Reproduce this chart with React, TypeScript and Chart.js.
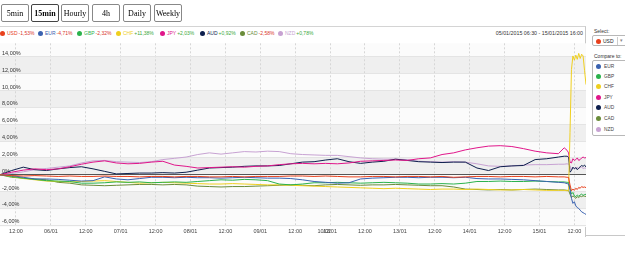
import React, { useEffect, useRef } from 'react';
import { Chart, registerables } from 'chart.js';

Chart.register(...registerables);

// ---- data ----
const periodButtons = ['5min', '15min', 'Hourly', '4h', 'Daily', 'Weekly'];
const activePeriod = '15min';

// trading hours since 05/01/2015 06:30 (weekend skipped)
const hours = [
  0, 4, 8, 12, 16, 20, 24, 28, 32, 36, 40, 44, 48, 52, 56, 60, 64, 68, 72, 76, 80, 84, 88, 92, 96,
  100, 104, 108, 112, 116, 120, 124, 128, 132, 136, 140, 144, 148, 152, 156, 160, 164, 168, 172,
  176, 180, 184, 188, 192, 194, 195, 195.5, 196, 196.5, 197, 197.5, 198, 198.5, 199, 199.5, 200,
  200.5, 201, 201.5,
];

const currencies = ['USD', 'EUR', 'GBP', 'CHF', 'JPY', 'AUD', 'CAD', 'NZD'];
const currencyColors = ['#e8401c', '#3a62b0', '#2bb24c', '#efcf1f', '#e0168a', '#0d1f4d', '#6a8c3a', '#c7a2d2'];
const changeLabels = ['-1,53%', '-4,71%', '-2,32%', '+11,38%', '+2,03%', '+0,92%', '-2,58%', '+0,78%'];
const compareList = ['EUR', 'GBP', 'CHF', 'JPY', 'AUD', 'CAD', 'NZD'];
const dateRange = '05/01/2015 06:30 - 15/01/2015 16:00';

const usd = [0, -0.1, -0.15, -0.1, -0.15, -0.2, -0.15, -0.2, -0.2, -0.15, -0.2, -0.2, -0.25, -0.2, -0.2, -0.25, -0.2, -0.2, -0.25, -0.25, -0.2, -0.25, -0.2, -0.2, -0.2, -0.15, -0.15, -0.2, -0.15, -0.2, -0.25, -0.25, -0.2, -0.2, -0.25, -0.2, -0.2, -0.25, -0.2, -0.3, -0.25, -0.2, -0.2, -0.25, -0.2, -0.2, -0.25, -0.2, -0.25,
  -0.25, -0.3, -0.3, -1.2, -1.9, -1.7, -1.85, -1.6, -1.75, -1.5, -1.6, -1.4, -1.5, -1.45, -1.53];
const eur = [0, -0.1, -0.3, -0.5, -0.5, -0.55, -0.65, -0.75, -0.7, -0.25, -0.5, -0.6, -0.45, -0.3, -0.3, -0.35, -0.3, -0.35, -0.35, -0.4, -0.35, -0.3, -0.35, -0.4, -0.4, -0.45, -0.6, -0.8, -0.9, -1.0, -0.95, -0.5, -0.4, -0.35, -0.3, -0.3, -0.35, -0.3, -0.3, -0.35, -0.3, -0.45, -0.5, -0.5, -0.55, -0.6, -0.7, -0.8, -0.9,
  -0.95, -1.05, -1.1, -1.8, -2.8, -3.4, -3.2, -3.7, -3.9, -4.0, -4.2, -4.4, -4.5, -4.6, -4.71];
const gbp = [0, -0.2, -0.4, -0.55, -0.7, -0.75, -0.8, -1.0, -1.0, -0.95, -0.85, -0.9, -0.85, -0.95, -0.9, -0.85, -0.9, -0.8, -0.7, -0.6, -0.65, -0.55, -0.6, -0.7, -1.1, -1.2, -1.1, -0.95, -0.95, -0.9, -0.95, -1.0, -0.95, -0.9, -0.95, -1.0, -1.1, -1.1, -1.05, -1.1, -1.0, -0.8, -0.8, -0.75, -0.8, -0.8, -0.75, -0.8, -0.85,
  -0.85, -0.9, -0.9, -1.6, -2.3, -2.1, -2.5, -2.6, -2.4, -2.55, -2.4, -2.3, -2.45, -2.35, -2.32];
const chf = [0, -0.2, -0.45, -0.6, -0.75, -0.8, -0.85, -0.8, -0.75, -0.7, -0.8, -0.9, -1.0, -0.95, -0.9, -0.95, -1.0, -1.05, -1.1, -1.1, -1.05, -1.1, -1.15, -1.2, -1.2, -1.25, -1.3, -1.35, -1.4, -1.45, -1.5, -1.55, -1.6, -1.65, -1.6, -1.65, -1.7, -1.75, -1.7, -1.7, -1.75, -1.7, -1.75, -1.8, -1.8, -1.75, -1.8, -1.85, -1.85,
  -1.85, -1.9, -1.9, 5.0, 12.5, 14.1, 13.6, 14.2, 13.7, 14.4, 13.8, 14.3, 14.1, 12.4, 10.7];
const jpy = [0, 0.3, 0.55, 0.7, 0.6, 0.7, 0.95, 1.25, 1.5, 1.65, 1.4, 1.3, 1.35, 1.5, 1.6, 1.15, 1.0, 0.8, 0.85, 0.9, 0.95, 0.9, 1.0, 1.05, 1.2, 1.3, 1.35, 1.3, 1.35, 1.3, 1.4, 1.6, 1.65, 1.7, 1.75, 1.7, 1.9, 2.0, 2.4, 2.6, 2.95, 3.2, 3.4, 3.45, 3.35, 3.1, 2.8, 2.6, 2.5,
  3.2, 2.9, 2.6, 1.5, 1.4, 1.9, 1.7, 1.8, 2.0, 1.7, 1.8, 2.0, 2.1, 2.0, 2.03];
const aud = [0, 0.5, 0.9, 0.6, 0.5, 0.7, 0.85, 0.95, 0.7, 0.4, 0.1, 0.15, 0.2, 0.2, 0.25, 0.2, 0.3, 0.55, 0.8, 0.85, 0.9, 1.0, 1.05, 1.05, 1.1, 1.3, 1.5, 1.55, 1.75, 1.9, 1.55, 1.35, 1.5, 1.6, 1.85, 1.7, 1.55, 1.5, 1.45, 1.5, 1.5, 0.8, 0.5, 0.95, 1.05, 1.1, 1.8, 1.9, 2.1,
  2.2, 2.2, 2.1, 0.3, 0.5, 0.9, 0.7, 0.85, 0.6, 0.8, 0.95, 1.1, 1.0, 1.15, 0.92];
const cad = [0, -0.3, -0.4, -0.5, -0.6, -0.9, -1.0, -1.2, -1.25, -1.3, -1.25, -1.2, -1.15, -1.15, -1.2, -1.15, -1.2, -1.35, -1.4, -1.45, -1.4, -1.4, -1.35, -1.3, -1.25, -1.2, -1.25, -1.3, -1.2, -1.15, -1.2, -1.25, -1.2, -1.2, -1.15, -1.2, -1.25, -1.3, -1.3, -1.45, -1.7, -1.75, -1.8, -1.75, -1.8, -1.75, -1.7, -1.75, -1.8,
  -1.8, -1.85, -1.85, -2.3, -2.7, -2.5, -2.65, -2.8, -2.6, -2.7, -2.55, -2.6, -2.5, -2.55, -2.58];
const nzd = [0, 0.15, 0.35, 0.6, 0.75, 0.9, 1.05, 1.4, 1.65, 1.7, 1.55, 1.5, 1.45, 1.55, 1.8, 1.95, 2.1, 2.4, 2.6, 2.45, 2.6, 2.75, 2.7, 2.8, 2.75, 2.5, 2.4, 2.35, 2.3, 2.3, 2.15, 2.0, 1.9, 1.85, 1.85, 1.8, 1.6, 1.55, 1.5, 1.55, 1.5, 1.3, 1.05, 1.0, 1.05, 1.15, 1.2, 1.2, 1.25,
  1.25, 1.3, 1.25, 1.1, 0.6, 0.9, 0.7, 0.8, 0.9, 0.7, 0.85, 0.9, 0.75, 0.8, 0.78];

const seriesValues = [usd, eur, gbp, chf, jpy, aud, cad, nzd];

const xTickHours = [5.5, 17.5, 29.5, 41.5, 53.5, 65.5, 77.5, 89.5, 101.5, 111.5, 113.5, 125.5, 137.5, 149.5, 161.5, 173.5, 185.5, 197.5];
const xTickLabels = ['12:00', '06/01', '12:00', '07/01', '12:00', '08/01', '12:00', '09/01', '12:00', '10/01', '12/01', '12:00', '13/01', '12:00', '14/01', '12:00', '15/01', '12:00'];
const hiddenGridTick = 111.5;
const yTickValues = [-6, -4, -2, 0, 2, 4, 6, 8, 10, 12, 14];
const grayBands = [[12, 14], [8, 10], [4, 6], [0, 2], [-4, -2]];

const FONT = '"Liberation Sans", Arial, sans-serif';

const bandPlugin = {
  id: 'bands',
  beforeDraw(chart: any) {
    const { ctx, chartArea, scales } = chart;
    const y = scales.y;
    ctx.save();
    ctx.fillStyle = '#fbfbfb';
    ctx.fillRect(chartArea.left, chartArea.top, chartArea.right - chartArea.left, chartArea.bottom - chartArea.top);
    ctx.fillStyle = '#efefef';
    for (const [lo, hi] of grayBands) {
      const top = y.getPixelForValue(hi);
      const bot = y.getPixelForValue(lo);
      ctx.fillRect(chartArea.left, top, chartArea.right - chartArea.left, bot - top);
    }
    ctx.restore();
  },
};

function formatPct(v: number) {
  return v === 0 ? '0%' : v.toFixed(2).replace('.', ',') + '%';
}

export default function App() {
  const canvasRef = useRef<HTMLCanvasElement>(null);

  useEffect(() => {
    const chart = new Chart(canvasRef.current as HTMLCanvasElement, {
      type: 'line',
      data: {
        datasets: currencies.map((name, si) => ({
          label: name,
          data: hours.map((h, i) => ({ x: h, y: seriesValues[si][i] })),
          borderColor: currencyColors[si],
          backgroundColor: currencyColors[si],
          borderWidth: 1,
          pointRadius: 0,
          tension: 0,
          fill: false,
        })),
      },
      options: {
        animation: false,
        responsive: true,
        maintainAspectRatio: false,
        layout: { padding: { top: 2, left: 0, right: 0, bottom: 0 } },
        plugins: { legend: { display: false }, tooltip: { enabled: false } },
        scales: {
          x: {
            type: 'linear',
            min: 0,
            max: 201.5,
            afterBuildTicks: (s: any) => {
              s.ticks = xTickHours.map((v) => ({ value: v }));
            },
            afterFit: (s: any) => {
              s.height = 11;
            },
            ticks: {
              autoSkip: false,
              maxRotation: 0,
              minRotation: 0,
              padding: 1,
              color: '#444',
              font: { size: 5.5, family: FONT },
              callback: (_v: any, i: number) => xTickLabels[i],
            },
            grid: {
              drawTicks: false,
              color: (ctx: any) => (ctx.tick && ctx.tick.value === hiddenGridTick ? 'rgba(0,0,0,0)' : '#d6d6d6'),
              lineWidth: 1,
            },
            border: { display: false, dash: [2, 2] },
          },
          y: {
            type: 'linear',
            min: -6.2,
            max: 15.6,
            afterBuildTicks: (s: any) => {
              s.ticks = yTickValues.map((v) => ({ value: v }));
            },
            afterFit: (s: any) => {
              s.width = 0;
            },
            ticks: {
              mirror: true,
              padding: 2,
              labelOffset: -3.5,
              color: '#333',
              font: { size: 5.5, family: FONT },
              callback: (v: any) => formatPct(Number(v)),
            },
            grid: {
              drawTicks: false,
              color: (ctx: any) => (ctx.tick && ctx.tick.value === 0 ? '#555' : '#e4e4e4'),
              lineWidth: 1,
            },
            border: { display: false },
          },
        },
      },
      plugins: [bandPlugin],
    } as any);
    return () => chart.destroy();
  }, []);

  const buttonLefts = [1, 31, 61, 92, 123, 154];
  const legendLefts = [0, 38, 77, 116, 160, 200, 240, 278];
  const listTops = [66, 76, 86.5, 97, 107.5, 118.5, 129.5];

  return (
    <div
      style={{
        position: 'fixed',
        left: 0,
        top: 0,
        width: 625,
        height: 255,
        background: '#fff',
        overflow: 'hidden',
        fontFamily: FONT,
      }}
    >
      {periodButtons.map((b, i) => (
        <div
          key={b}
          style={{
            position: 'absolute',
            left: buttonLefts[i],
            top: 4,
            width: 28,
            height: 18,
            boxSizing: 'border-box',
            border: b === activePeriod ? '1px solid #444' : '1px solid #888',
            borderRadius: 2,
            background: '#fff',
            display: 'flex',
            alignItems: 'center',
            justifyContent: 'center',
            fontFamily: '"Liberation Serif", "Times New Roman", serif',
            fontSize: 8,
            fontWeight: b === activePeriod ? 'bold' : 'normal',
            color: '#000',
            willChange: 'transform',
          }}
        >
          {b}
        </div>
      ))}

      <div
        style={{
          position: 'absolute',
          left: 0,
          top: 26,
          width: 586,
          height: 211,
          boxSizing: 'border-box',
          borderTop: '1px solid #d4d4d4',
          borderRight: '1px solid #c8c8c8',
        }}
      />

      {currencies.map((c, i) => (
        <div
          key={c}
          style={{
            position: 'absolute',
            left: legendLefts[i],
            top: 30,
            height: 6,
            display: 'flex',
            alignItems: 'center',
            fontSize: 5,
            lineHeight: '6px',
            whiteSpace: 'nowrap',
          }}
        >
          <span
            style={{
              display: 'inline-block',
              width: 5,
              height: 5,
              borderRadius: '50%',
              background: currencyColors[i],
              marginRight: 2,
            }}
          />
          <span style={{ color: currencyColors[i] }}>{c}</span>
          <span style={{ color: changeLabels[i].startsWith('-') ? '#d8352a' : '#3aa83a', marginLeft: 1 }}>
            {changeLabels[i]}
          </span>
        </div>
      ))}

      <div
        style={{
          position: 'absolute',
          right: 625 - 583,
          top: 30,
          fontSize: 5.3,
          lineHeight: '6px',
          color: '#333',
          whiteSpace: 'nowrap',
        }}
      >
        {dateRange}
      </div>

      <div style={{ position: 'absolute', left: 0, top: 38, width: 586, height: 200 }}>
        <canvas ref={canvasRef} />
      </div>

      {/* right panel */}
      <div style={{ position: 'absolute', left: 594, top: 28, fontSize: 5, color: '#333' }}>Select:</div>
      <div
        style={{
          position: 'absolute',
          left: 592,
          top: 35,
          width: 36,
          height: 11,
          boxSizing: 'border-box',
          border: '1px solid #b8b8b8',
          borderRadius: 2,
          background: '#fff',
        }}
      >
        <span
          style={{
            position: 'absolute',
            left: 3,
            top: 2.5,
            width: 5,
            height: 5,
            borderRadius: '50%',
            background: currencyColors[0],
          }}
        />
        <span style={{ position: 'absolute', left: 10, top: 1.5, fontSize: 5, color: '#222' }}>USD</span>
        <span style={{ position: 'absolute', left: 24, top: 1, width: 1, height: 8, background: '#ccc' }} />
        <span style={{ position: 'absolute', left: 27, top: 1, fontSize: 5, color: '#888' }}>▾</span>
      </div>
      <div style={{ position: 'absolute', left: 594, top: 53, fontSize: 5, color: '#333', whiteSpace: 'nowrap' }}>
        Compare to:
      </div>
      <div
        style={{
          position: 'absolute',
          left: 592,
          top: 60,
          width: 40,
          height: 76,
          boxSizing: 'border-box',
          border: '1px solid #b8b8b8',
          borderRadius: 2,
          background: '#fff',
        }}
      />
      {compareList.map((c, i) => (
        <div
          key={c}
          style={{
            position: 'absolute',
            left: 596,
            top: listTops[i] - 3,
            height: 6,
            display: 'flex',
            alignItems: 'center',
            fontSize: 4.8,
            color: '#444',
          }}
        >
          <span
            style={{
              display: 'inline-block',
              width: 5,
              height: 5,
              borderRadius: '50%',
              background: currencyColors[currencies.indexOf(c)],
              marginRight: 3,
            }}
          />
          {c}
        </div>
      ))}
      <div style={{ position: 'absolute', left: 586, top: 235, width: 39, height: 1, background: '#c8c8c8' }} />
    </div>
  );
}
